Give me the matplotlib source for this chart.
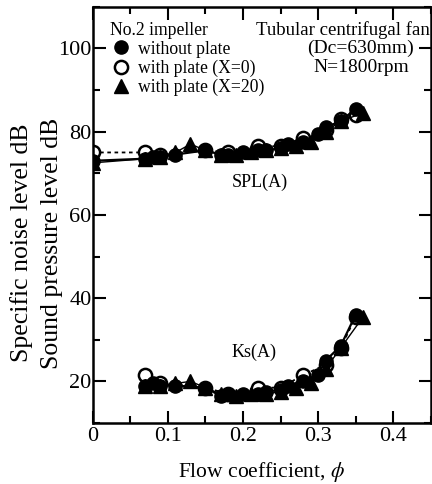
import numpy as np
import matplotlib
matplotlib.use('Agg')
from matplotlib import pyplot as plt
from matplotlib.lines import Line2D
from matplotlib.ticker import MultipleLocator

plt.rcParams['font.family'] = ['Liberation Serif', 'DejaVu Serif']
plt.rcParams['mathtext.fontset'] = 'stix'

# without plate (filled circles)
phi_a = [0, 0.07, 0.08, 0.09, 0.11, 0.15, 0.17, 0.18, 0.20, 0.22, 0.23, 0.25, 0.26, 0.28, 0.30, 0.31, 0.33, 0.35]
spl_a = [73, 73.5, 74, 74, 74.5, 75.5, 74.5, 74.5, 75, 75.5, 75.5, 76, 77, 77.5, 79.5, 81, 82.5, 85.5]
ks_a = [None, 19, 19.5, 19, 19, 18.5, 16.5, 17, 17, 17, 17.5, 18, 19, 20, 21.5, 25, 28.5, 36]

# with plate X=0 (open circles)
phi_b = [0, 0.07, 0.09, 0.15, 0.18, 0.22, 0.25, 0.28, 0.31, 0.33, 0.35]
spl_b = [75, 75, 74.5, 75.5, 75, 76.5, 76.5, 78.5, 80.5, 83, 84]
ks_b = [None, 21.5, 19.5, 18.5, 17, 18.5, 18.5, 21.5, 24, 28, 35.5]

# with plate X=20 (filled triangles)
phi_c = [0, 0.07, 0.09, 0.11, 0.13, 0.15, 0.17, 0.19, 0.21, 0.23, 0.25, 0.27, 0.29, 0.31, 0.33, 0.36]
spl_c = [72.5, 73.5, 74, 75, 77, 75.5, 74.5, 74.5, 75, 75.5, 76, 76.5, 77.5, 80, 82.5, 84.5]
ks_c = [None, 19, 19, 19.5, 20, 18.5, 17, 16.5, 17, 17, 17.5, 18.5, 19.5, 23, 28, 35.5]


def series(x, y):
    pts = [(a, b) for a, b in zip(x, y) if b is not None]
    return [p[0] for p in pts], [p[1] for p in pts]


fig = plt.figure(figsize=(4.32, 4.84), dpi=100)
ax = fig.add_axes([0.215, 0.126, 0.782, 0.86])

ms = 9.5
for ys in (spl_b, ks_b):
    x, y = series(phi_b, ys)
    ax.plot(x, y, ls=(0, (2, 2)), lw=1.3, color='black', marker='o', ms=ms,
            mfc='white', mec='black', mew=1.8, zorder=2)
for ys in (spl_c, ks_c):
    x, y = series(phi_c, ys)
    ax.plot(x, y, ls='-', lw=1.0, color='black', marker='^', ms=ms + 0.5,
            mfc='black', mec='black', zorder=3)
for ys in (spl_a, ks_a):
    x, y = series(phi_a, ys)
    ax.plot(x, y, ls='-', lw=1.6, color='black', marker='o', ms=ms,
            mfc='black', mec='black', zorder=4)

ax.set_xlim(0, 0.45)
ax.set_ylim(10, 110)
ax.xaxis.set_major_locator(MultipleLocator(0.1))
ax.xaxis.set_minor_locator(MultipleLocator(0.05))
ax.yaxis.set_major_locator(MultipleLocator(20))
ax.yaxis.set_minor_locator(MultipleLocator(10))
ax.set_xticks([0, 0.1, 0.2, 0.3, 0.4])
ax.set_xticklabels(['0', '0.1', '0.2', '0.3', '0.4'])
ax.tick_params(which='both', direction='in', top=True, right=True, width=1.5,
               labelsize=16)
ax.tick_params(which='major', length=9)
ax.tick_params(which='minor', length=5)
ax.tick_params(axis='x', pad=3)
ax.tick_params(axis='y', pad=1)
for s in ax.spines.values():
    s.set_linewidth(1.8)

ax.set_xlabel(r'Flow coefficient, $\phi$', fontsize=15.5, labelpad=10)
# two-line y label, placed as separate rotated texts
fig.text(22 / 432, 1 - 243 / 484, 'Specific noise level dB', fontsize=18.5,
         rotation=90, ha='center', va='center')
fig.text(52 / 432, 1 - 243 / 484, 'Sound pressure level dB', fontsize=18.5,
         rotation=90, ha='center', va='center')

ax.text(0.222, 67.8, 'SPL(A)', fontsize=13, ha='center', va='center')
ax.text(0.215, 27.0, 'Ks(A)', fontsize=13, ha='center', va='center')

handles = [
    Line2D([], [], ls='none', marker='o', ms=ms, mfc='black', mec='black'),
    Line2D([], [], ls='none', marker='o', ms=ms, mfc='white', mec='black', mew=1.8),
    Line2D([], [], ls='none', marker='^', ms=ms + 0.5, mfc='black', mec='black'),
]
leg = ax.legend(handles, ['without plate', 'with plate (X=0)', 'with plate (X=20)'],
                title='No.2 impeller', loc='upper left', frameon=False,
                fontsize=12.7, title_fontsize=12.7, handletextpad=0.4,
                handlelength=1.2, labelspacing=0.12, borderaxespad=0.2,
                bbox_to_anchor=(0.02, 0.99))
leg._legend_box.align = 'left'

ax.text(0.999, 0.945, 'Tubular centrifugal fan', fontsize=13.5, ha='right',
        va='center', transform=ax.transAxes)
ax.text(0.357, 99.9, '(Dc=630mm)', fontsize=14, ha='center', va='center')
ax.text(0.358, 95.3, 'N=1800rpm', fontsize=14, ha='center', va='center')

fig.savefig('out.png', dpi=100)
